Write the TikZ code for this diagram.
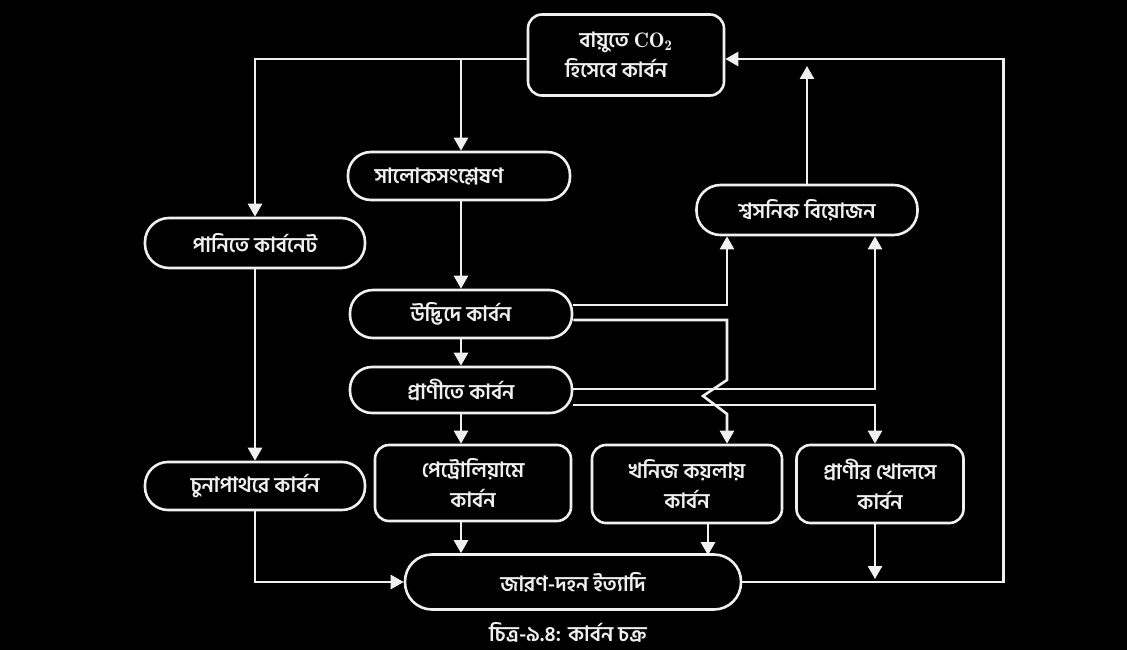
\documentclass[tikz,border=0pt]{standalone}
\usepackage{fontspec}
\newfontfamily\bn[Script=Bengali]{Hind Siliguri}
\usetikzlibrary{arrows.meta,calc}
\definecolor{fg}{HTML}{F0F0F0}
\begin{document}
\begin{tikzpicture}[x=1pt,y=-1pt,
  every node/.style={text=fg, font=\bn\bfseries\fontsize{21}{30}\selectfont, inner sep=0pt, align=center},
  stad/.style={draw=fg, line width=2.6pt, rounded corners=23pt, minimum height=48pt},
  rbox/.style={draw=fg, line width=2.6pt, rounded corners=14pt},
  ln/.style={draw=fg, line width=2.6pt},
  arr/.style={ln, -{Triangle[width=14pt,length=13pt]}}]
\fill[black] (0,0) rectangle (1127,650);
\useasboundingbox (0,0) rectangle (1127,650);
% nodes
\node[rbox, minimum width=196pt, minimum height=81pt] (air) at (626,55) {বায়ুতে $\mathbf{CO_2}$\\\hspace*{-20pt}হিসেবে কার্বন};
\node[stad, minimum width=222pt] (sal) at (459,176) {\hspace*{-40pt}সালোকসংশ্লেষণ};
\node[stad, minimum width=221pt, minimum height=50pt, rounded corners=24pt] (shw) at (807,210) {শ্বসনিক বিয়োজন};
\node[stad, minimum width=220pt, minimum height=50pt, rounded corners=24pt] (pan) at (255,243) {পানিতে কার্বনেট};
\node[stad, minimum width=222pt] (udb) at (461,314) {উদ্ভিদে কার্বন};
\node[stad, minimum width=222pt, minimum height=46pt, rounded corners=22pt] (pra) at (461,390) {প্রাণীতে কার্বন};
\node[stad, minimum width=220pt] (chu) at (255,486) {চুনাপাথরে কার্বন};
\node[rbox, minimum width=196pt, minimum height=76pt] (pet) at (473,483) {পেট্রোলিয়ামে\\কার্বন};
\node[rbox, minimum width=190pt, minimum height=78pt] (kha) at (687,484) {খনিজ কয়লায়\\কার্বন};
\node[rbox, minimum width=167pt, minimum height=78pt] (khl) at (880,484) {প্রাণীর খোলসে\\কার্বন};
\node[stad, minimum width=336pt, minimum height=55pt, rounded corners=27pt] (jar) at (573,582) {জারণ-দহন ইত্যাদি};
\node (cap) at (568,632) {চিত্র-৯.৪: কার্বন চক্র};
% helper coordinates
\coordinate (aL) at ($(air.west)+(0,4)$);
\coordinate (aR) at ($(air.east)+(0,4)$);
\coordinate (sT) at (udb.north |- aL);
\coordinate (shTop) at ($(shw.north |- aR)+(0,7)$);
\coordinate (rC) at ($(jar.east)+(261,0)$);
\coordinate (u1) at ($(udb.east)+(0,-9)$);
\coordinate (u2) at ($(udb.east)+(0,6)$);
\coordinate (p1) at ($(pra.east)+(0,-1)$);
\coordinate (p2) at ($(pra.east)+(0,15)$);
\coordinate (shL) at ($(shw.south)+(-80,0)$);
\coordinate (shR) at ($(shw.south)+(68,0)$);
\coordinate (khT) at ($(kha.north)+(40,0)$);
\coordinate (klT) at ($(khl.north)+(-5,0)$);
\coordinate (petB) at ($(pet.south)+(-12,0)$);
\coordinate (khaB) at ($(kha.south)+(21,0)$);
\coordinate (klB) at ($(khl.south)+(-5,0)$);
% connectors
\draw[arr] (aL) -| (pan.north);
\draw[arr] (sT) -- (sT |- sal.north);
\draw[arr] (udb.north |- sal.south) -- (udb.north);
\draw[arr] (pan.south) -- (chu.north);
\draw[arr] (udb.south) -- (pra.north);
\draw[arr] (pra.south) -- (pra.south |- pet.north);
\draw[arr] (u1) -| (shL);
\draw[arr] (u2) -| ($(khT |- p1)+(0,-9)$) -- ($(khT |- p1)+(-24,7)$) -- ($(khT |- p2)+(0,9)$) -- (khT);
\draw[arr] (p1) -| (shR);
\draw[arr] (p2) -| (klT);
\draw[arr] (shw.north) -- (shTop);
\draw[arr] (jar.east) -- (rC) |- (aR);
\draw[arr] (chu.south) |- (jar.west);
\draw[arr] (petB) -- (petB |- jar.north);
\draw[arr] (khaB) -- ($(khaB |- jar.north)+(0,2)$);
\draw[arr] (klB) -- ($(klB |- jar.east)+(0,-3)$);
\end{tikzpicture}
\end{document}
